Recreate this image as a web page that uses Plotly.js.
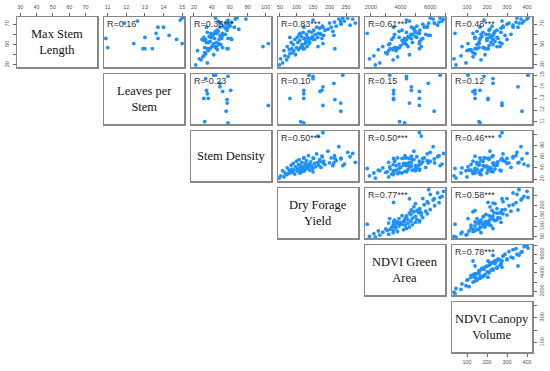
<!DOCTYPE html>
<html><head><meta charset="utf-8">
<script src="https://cdn.plot.ly/plotly-3.0.1.min.js"></script>
<style>html,body{margin:0;padding:0;background:#fff}#chart{width:550px;height:371px}</style>
</head><body><div id="chart"></div>
<script>
// Diagonal variable names
const variableNames = ['Max Stem<br>Length', 'Leaves per<br>Stem', 'Stem Density', 'Dry Forage<br>Yield', 'NDVI Green<br>Area', 'NDVI Canopy<br>Volume'];

// Observations (one entry per sample; null = not measured)
const maxStemLength = [30,36,32,44,39,35,48,38,45,41, 52,46,42,50,44,55,40,47,57,52, 45,60,54,47,58,50,49,62,46,56,
  51,53,60,48,57,55,63,52,56,62, 58,64,55,60,67,57,61,66,60,68, 59,64,48,65,71,67,63,72,68,75, 70,73,76,69,75,71,
  61,
  76,74,51,55,59,67,67,56,61,46, 57,46,46,73,51,71,47,56];
const leavesPerStem = [null,null,null,null,null,null,null,null,null,null, null,null,null,null,null,null,null,null,null,null,
  null,null,null,null,null,null,null,null,null,null, null,null,null,null,null,null,null,null,null,null,
  null,null,null,null,null,null,null,null,null,null, null,null,null,null,null,null,null,null,null,null,
  null,null,null,null,null,null,
  null,
  15.0,14.9,15.0,14.7,14.3,14.0,13.7,13.7,13.6,13.4, 13.0,13.0,12.9,12.6,12.4,11.9,11.0,10.9];
const stemDensity = [22,26,35,24,31,28,40,30,36,33, 45,38,32,48,36,29,42,52,39,34, 46,55,31,44,37,50,41,35,58,43,
  48,38,53,45,40,62,47,36,51,44, 39,57,48,42,65,50,45,55,41,60, 52,46,97,70,49,58,44,62,53,78, 57,47,68,60,66,50,
  39,
  44,58,42,33,49,49,34,61,52,35, 31,36,57,57,103,56,32,58];
const dryForageYield = [48,52,58,62,65,70,72,75,78,80, 84,86,88,90,92,95,97,100,102,104, 106,108,110,112,114,116,118,120,122,124,
  126,128,130,132,134,136,138,140,143,146, 149,152,155,158,161,164,167,170,174,178, 182,186,165,195,200,205,210,215,220,228,
  235,245,255,262,270,278,
  111,
  240,150,138,150,213,180,122,177,171,122, 80,122,216,234,180,234,113,122];
const ndviGreenArea = [2300,1900,2600,3200,2200,3500,2800,3800,2500,3100, 4200,3300,3000,4400,3700,3400,4600,3600,3900,4300,
  3500,4800,4100,3700,4500,3200,4000,5000,3800,4700, 4200,5300,3600,4500,5100,4300,3900,4800,5500,4400,
  5000,4100,5400,4700,5800,4600,5200,4900,5700,5100, 6000,5300,5400,4900,6300,5600,5000,6600,5800,6200,
  5500,6800,6000,6500,6900,5900,
  1750,
  6670,4400,3270,4400,5870,4730,3530,4730,5270,3530, 3530,5270,3530,4600,5270,6270,3930,4270];
const ndviCanopyVolume = [45,35,95,100,70,170,75,130,110,140, 160,150,130,230,120,165,190,180,140,220,
  120,210,200,185,175,150,210,270,190,200, 160,240,170,250,215,230,150,265,255,180,
  220,210,300,195,280,250,235,270,320,225, 290,250,265,215,310,330,240,345,280,370,
  300,385,350,330,400,360,
  40,
  405,185,105,230,230,355,165,140,130,140, 140,205,205,275,275,375,160,165];

// Correlation labels, upper triangle, row by row
const correlationLabels = ['R=0.16','R=0.35***','R=0.83***','R=0.61***','R=0.48***',
  'R=-0.23','R=0.10','R=0.15','R=0.12',
  'R=0.50***','R=0.50***','R=0.46***',
  'R=0.77***','R=0.58***',
  'R=0.78***'];

// Tick values and labels per variable
const tickValues = [[30,40,50,60,70],[11,12,13,14,15],[20,40,60,80,100],[50,100,150,200,250],[2000,3000,4000,5000,6000,7000],[100,200,300,400]];
const topTickText = [['30','40','50','60','70'],['11','12','13','14','15'],['20','40','60','80','100'],['50','100','150','200','250'],['2000','','4000','','6000',''],['100','200','300','400']];
const sideTickText = [['30','','50','','70'],['11','12','13','14','15'],['20','40','60','80',''],['50','100','150','200',''],['2000','','4000','','6000',''],['100','','300','']];

const series = [maxStemLength, leavesPerStem, stemDensity, dryForageYield, ndviGreenArea, ndviCanopyVolume];
const ranges = [[28,77],[10.8,15.1],[16.7,106],[44,286],[1600,7000],[25,425]];

const PW = 550, PH = 371;
const colLeft = [17,104,191,278,365,452], W = 80;
const rowTop = [17,74,131,188,245,302], H = 50;

const tickFont = {family: 'Liberation Sans, Arial, sans-serif', size: 5.5, color: '#555'};
function baseAxis() {
  return {showgrid: false, zeroline: false, showline: true, mirror: true, linecolor: '#888', linewidth: 1.5,
    ticks: '', showticklabels: false, fixedrange: true};
}
function withTicks(ax, side, vals, text, angle) {
  Object.assign(ax, {side: side, ticks: 'outside', ticklen: 3, tickwidth: 1, tickcolor: '#666',
    showticklabels: true, tickmode: 'array', tickvals: vals, ticktext: text, tickfont: tickFont, tickangle: angle, ticklabelstandoff: 1});
  return ax;
}

const traces = [];
const annotations = [];
const layout = {width: PW, height: PH, margin: {l: 0, r: 0, t: 0, b: 0}, paper_bgcolor: '#fff', plot_bgcolor: '#fff',
  showlegend: false, hovermode: false};

let k = 0, p = 0;
for (let i = 0; i < 6; i++) {
  for (let j = i; j < 6; j++) {
    k++;
    const sfx = k === 1 ? '' : String(k);
    const xr = 'x' + sfx, yr = 'y' + sfx;
    const xa = baseAxis(), ya = baseAxis();
    xa.domain = [colLeft[j] / PW, (colLeft[j] + W) / PW];
    xa.range = ranges[j];
    xa.anchor = yr;
    ya.domain = [1 - (rowTop[i] + H) / PH, 1 - rowTop[i] / PH];
    ya.range = ranges[i];
    ya.anchor = xr;
    if (i === 0) withTicks(xa, 'top', tickValues[j], topTickText[j], 0);
    if (i === 5 && j === 5) withTicks(xa, 'bottom', tickValues[j], topTickText[j], 0);
    if (j === 5) withTicks(ya, 'right', tickValues[i], sideTickText[i], -90);
    if (i === 0 && j === 0) withTicks(ya, 'left', tickValues[i], sideTickText[i], -90);
    layout['xaxis' + sfx] = xa;
    layout['yaxis' + sfx] = ya;
    if (i === j) {
      traces.push({type: 'scatter', mode: 'markers', x: [null], y: [null], xaxis: xr, yaxis: yr, hoverinfo: 'skip'});
      annotations.push({xref: xr + ' domain', yref: yr + ' domain', x: 0.5, y: 0.5, xanchor: 'center', yanchor: 'middle',
        text: variableNames[i], showarrow: false, align: 'center',
        font: {family: 'Liberation Serif, Times New Roman, serif', size: 12.5, color: '#111'}});
    } else {
      traces.push({type: 'scatter', mode: 'markers', x: series[j], y: series[i], xaxis: xr, yaxis: yr,
        marker: {color: '#1E90FF', size: 3.8}, hoverinfo: 'skip', cliponaxis: true});
      annotations.push({xref: xr + ' domain', yref: yr + ' domain', x: 0.01, y: 1.0, xanchor: 'left', yanchor: 'top',
        text: correlationLabels[p++], showarrow: false,
        font: {family: 'Liberation Sans, Arial, sans-serif', size: 9, color: '#333'}});
    }
  }
}
layout.annotations = annotations;
Plotly.newPlot('chart', traces, layout, {staticPlot: true, displayModeBar: false});
</script></body></html>
